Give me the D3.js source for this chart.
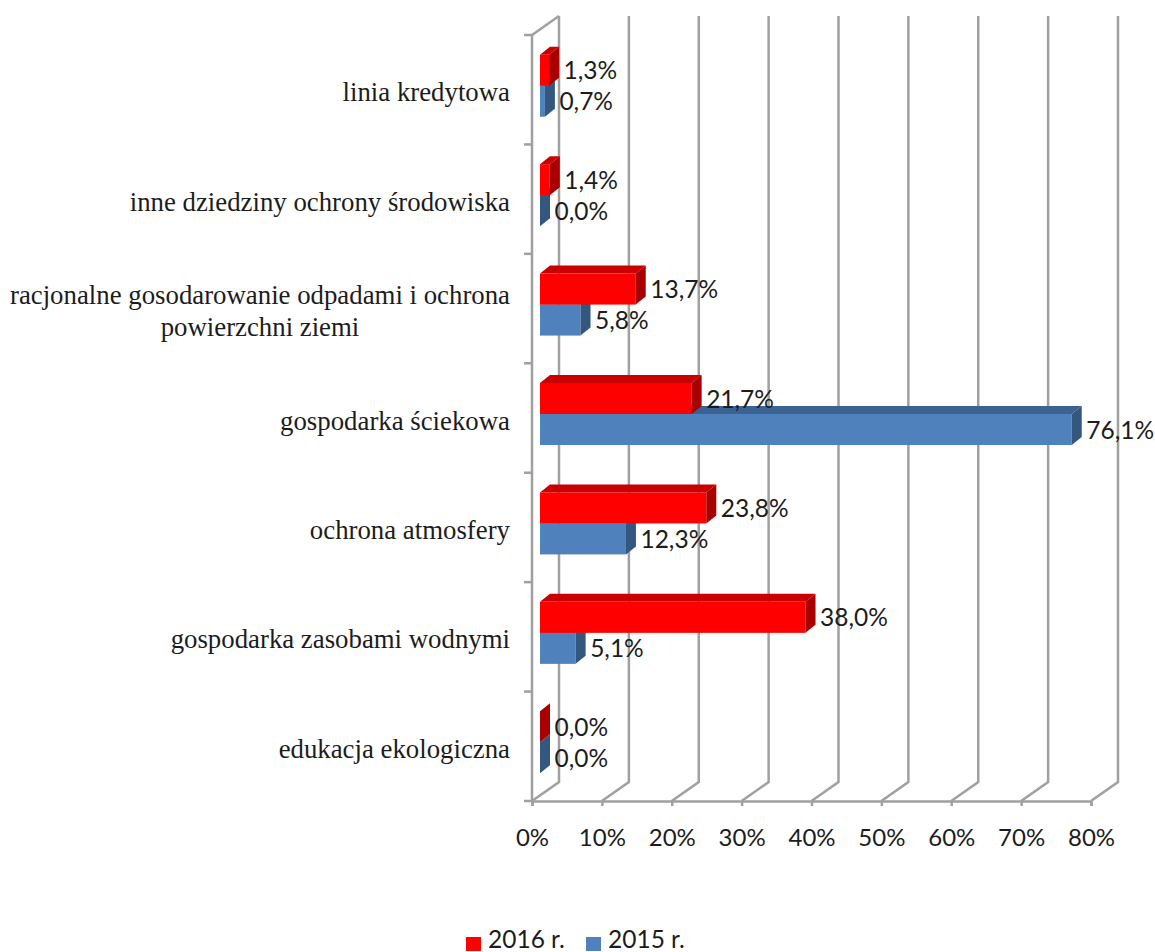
<!DOCTYPE html>
<html>
<head>
<meta charset="utf-8">
<script src="https://cdn.jsdelivr.net/npm/d3@7"></script>
<style>
  html, body { margin: 0; padding: 0; background: #fff; overflow: hidden; }
  svg { display: block; }
  .cat { font-family: "Liberation Serif", serif; font-size: 26.8px; fill: #1c1c1c; }
  .val, .leg { font-family: "Lato", "Open Sans", sans-serif; font-size: 24.5px; fill: #1c1c1c; }
  .tick-label { font-family: "Lato", "Open Sans", sans-serif; font-size: 24px; fill: #1c1c1c; }
</style>
</head>
<body>
<svg id="chart" width="1155" height="952"></svg>
<script>
// categories from top to bottom, wrapped labels are split in lines
var categories = ["linia kredytowa", "inne dziedziny ochrony środowiska", "racjonalne gosodarowanie odpadami", "gospodarka ściekowa", "ochrona atmosfery", "gospodarka zasobami wodnymi", "edukacja ekologiczna"];
var categoryLines = [["linia kredytowa"], ["inne dziedziny ochrony środowiska"], ["racjonalne gosodarowanie odpadami i ochrona", "powierzchni ziemi"], ["gospodarka ściekowa"], ["ochrona atmosfery"], ["gospodarka zasobami wodnymi"], ["edukacja ekologiczna"]];
var values2016 = [1.3, 1.4, 13.7, 21.7, 23.8, 38.0, 0.0];
var values2015 = [0.7, 0.0, 5.8, 76.1, 12.3, 5.1, 0.0];
var xTicks = [0, 10, 20, 30, 40, 50, 60, 70, 80];
var legendNames = ["2016 r.", "2015 r."];

var red = {front: "#ff0000", top: "#c80000", side: "#a80000"};
var blue = {front: "#4f81bd", top: "#3c6291", side: "#34577f"};
var gridColor = "#a0a0a0";

var svg = d3.select("#chart");

// front plane of the 3d box
var x = d3.scaleLinear().domain([0, 80]).range([532, 1091]);
var y = d3.scaleBand().domain(categories).range([35, 801]);
var series = d3.scaleBand().domain([0, 1]).range([0, 62]);

var wallX = 27, wallY = -19;   // depth of the box
var barX = 10, barY = -8;      // depth of one bar
var barIn = 8;                 // bars start a bit behind the axis
var fmt = d3.formatLocale({decimal: ",", thousands: " ", grouping: [3], currency: ["", ""]}).format(".1f");

// walls: gridlines at back + diagonal on the floor
var grid = svg.append("g");
xTicks.forEach(function (t) {
  var px = x(t);
  grid.append("path")
    .attr("d", d3.line()([[px, y.range()[1]], [px + wallX, y.range()[1] + wallY], [px + wallX, y.range()[0] + wallY]]))
    .attr("fill", "none")
    .attr("stroke", gridColor)
    .attr("stroke-width", 2.5);
});
grid.append("path")
  .attr("d", d3.line()([[x(0), y.range()[0]], [x(0) + wallX, y.range()[0] + wallY]]))
  .attr("fill", "none").attr("stroke", gridColor).attr("stroke-width", 2.5);

// left axis line and the ticks between categories
grid.append("line")
  .attr("x1", x(0)).attr("x2", x(0)).attr("y1", y.range()[0]).attr("y2", y.range()[1])
  .attr("stroke", gridColor).attr("stroke-width", 2.5);
d3.range(categories.length + 1).forEach(function (i) {
  var py = y.range()[0] + i * y.step();
  grid.append("line")
    .attr("x1", x(0) - 8).attr("x2", x(0)).attr("y1", py).attr("y2", py)
    .attr("stroke", gridColor).attr("stroke-width", 2.5);
});

// bottom axis
var axis = d3.axisBottom(x).tickValues(xTicks).tickSize(5).tickPadding(23).tickFormat(function (d) { return d + "%"; });
var axisG = svg.append("g").attr("transform", "translate(0," + y.range()[1] + ")").call(axis);
axisG.select(".domain").attr("stroke", gridColor).attr("stroke-width", 2.5);
axisG.selectAll(".tick line").attr("stroke", gridColor).attr("stroke-width", 2.5);
axisG.selectAll(".tick text").attr("class", "tick-label").attr("fill", null);

// one 3d bar: top, side, front
function drawBars(values, s, colors) {
  var g = svg.append("g");
  values.forEach(function (v, i) {
    var x0 = x(0) + barIn;
    var x1 = x(v) + barIn;
    var y0 = y(categories[i]) + (y.bandwidth() - series.step() * 2) / 2 + series(s) - 4;
    var y1 = y0 + series.bandwidth();
    if (v > 0) {
      g.append("path")
        .attr("d", d3.line()([[x0, y0], [x1, y0], [x1 + barX, y0 + barY], [x0 + barX, y0 + barY]]) + "Z")
        .attr("fill", colors.top);
      g.append("rect")
        .attr("x", x0).attr("y", y0).attr("width", x1 - x0).attr("height", y1 - y0)
        .attr("fill", colors.front);
    }
    g.append("path")
      .attr("d", d3.line()([[x1, y0], [x1 + barX, y0 + barY], [x1 + barX, y1 + barY], [x1, y1]]) + "Z")
      .attr("fill", colors.side);
  });
}
// lower series first so the red one sits on top of it
drawBars(values2015, 1, blue);
drawBars(values2016, 0, red);

// value labels go after all bars
function drawLabels(values, s) {
  values.forEach(function (v, i) {
    var y0 = y(categories[i]) + (y.bandwidth() - series.step() * 2) / 2 + series(s) - 4;
    svg.append("text")
      .attr("class", "val")
      .attr("x", x(v) + barIn + barX + 4.5)
      .attr("y", y0 + series.bandwidth() / 2 + 9)
      .text(fmt(v) + "%");
  });
}
drawLabels(values2016, 0);
drawLabels(values2015, 1);

// category labels, wrapped lines are centered on the longest one
categoryLines.forEach(function (lines, i) {
  var t = svg.append("text").attr("class", "cat");
  var spans = lines.map(function (l) { return t.append("tspan").text(l); });
  var w = d3.max(spans, function (sp) { return sp.node().getComputedTextLength(); });
  var cy = y(categories[i]) + y.bandwidth() / 2 + 11.5;
  spans.forEach(function (sp, k) {
    sp.attr("x", 510 - w / 2)
      .attr("y", cy + (k - (lines.length - 1) / 2) * 32)
      .attr("text-anchor", "middle");
  });
});

// legend
var legendX = d3.scaleOrdinal().domain(legendNames).range([466, 586]);
var legendColors = d3.scaleOrdinal().domain(legendNames).range([red.front, blue.front]);
legendNames.forEach(function (n) {
  svg.append("rect")
    .attr("x", legendX(n)).attr("y", 937).attr("width", 15).attr("height", 14)
    .attr("fill", legendColors(n));
  svg.append("text")
    .attr("class", "leg")
    .attr("x", legendX(n) + 22).attr("y", 947.5)
    .text(n);
});
</script>
</body>
</html>
